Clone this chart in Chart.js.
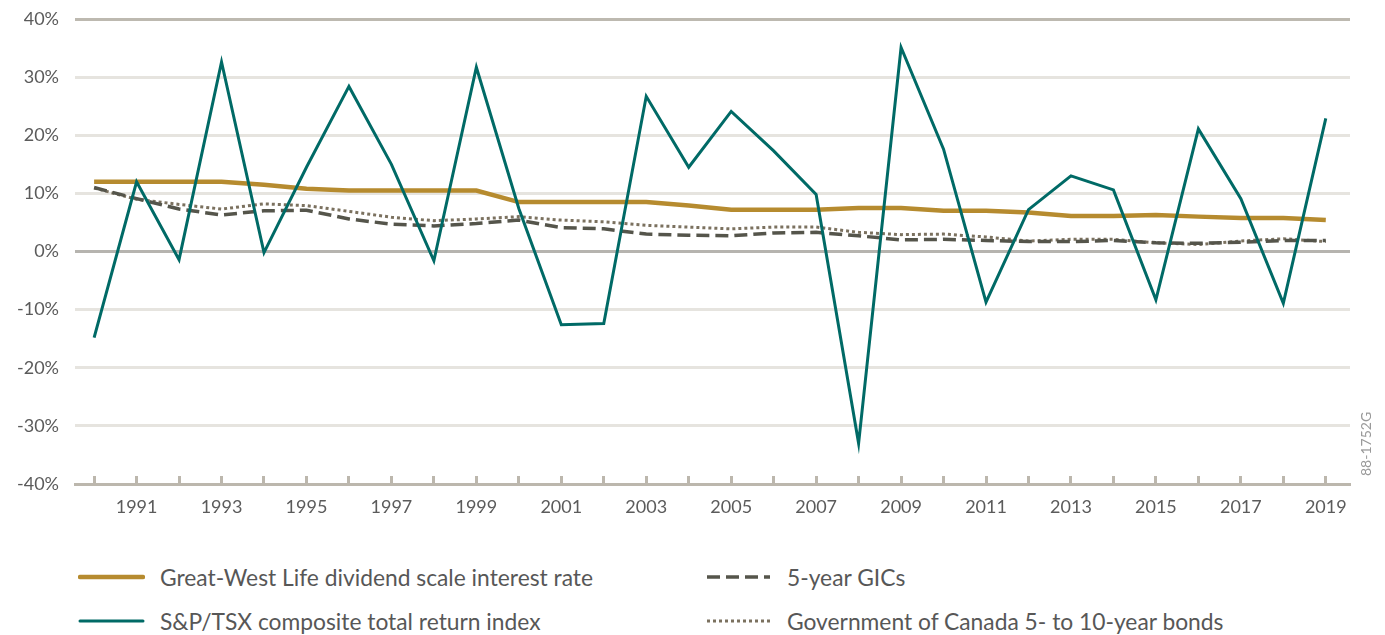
<!DOCTYPE html>
<html>
<head>
<meta charset="utf-8">
<script src="https://cdn.jsdelivr.net/npm/chart.js@4/dist/chart.umd.min.js"></script>
<style>
  body { margin: 0; background: #fff; font-family: Lato, sans-serif; }
  #wrap { position: relative; width: 1385px; height: 635px; }
  #chartBox { position: absolute; left: 0; top: 0; width: 1385px; height: 530px; }
  #legend { position: absolute; left: 78px; top: 555px; display: grid;
            grid-template-columns: 627px 600px; grid-template-rows: 44px 44px; grid-auto-flow: column; }
  .item { display: flex; align-items: center; color: #575757; font-size: 22.8px; }
  .item svg { margin-right: 15px; }
  #code { position: absolute; left: 1357px; top: 476px; transform-origin: left top;
          transform: rotate(-90deg); color: #9a9a9a; font-size: 14px; white-space: nowrap; }
</style>
</head>
<body>
<div id="wrap">
  <div id="chartBox"><canvas id="chart"></canvas></div>
  <div id="legend"></div>
  <div id="code">88-1752G</div>
</div>
<script>
  const years = [1990, 1991, 1992, 1993, 1994, 1995, 1996, 1997, 1998, 1999,
                 2000, 2001, 2002, 2003, 2004, 2005, 2006, 2007, 2008, 2009,
                 2010, 2011, 2012, 2013, 2014, 2015, 2016, 2017, 2018, 2019];

  const gwlRate   = [12.0, 12.0, 12.0, 12.0, 11.5, 10.8, 10.5, 10.5, 10.5, 10.5,
                     8.5, 8.5, 8.5, 8.5, 7.9, 7.2, 7.2, 7.2, 7.5, 7.5,
                     7.0, 7.0, 6.7, 6.1, 6.1, 6.3, 6.0, 5.75, 5.75, 5.4];
  const tsxReturn = [-14.8, 12.0, -1.4, 32.6, -0.2, 14.5, 28.4, 15.0, -1.6, 31.7,
                     7.4, -12.6, -12.4, 26.7, 14.5, 24.1, 17.3, 9.8, -33.0, 35.1,
                     17.6, -8.7, 7.2, 13.0, 10.6, -8.3, 21.1, 9.1, -8.9, 22.9];
  const gicRate   = [11.0, 9.1, 7.3, 6.3, 7.0, 7.1, 5.6, 4.7, 4.4, 4.8,
                     5.4, 4.1, 3.9, 3.0, 2.8, 2.7, 3.2, 3.3, 2.7, 2.0,
                     2.1, 1.9, 1.7, 1.7, 1.9, 1.5, 1.4, 1.6, 1.9, 1.9];
  const bondYield = [10.9, 9.0, 8.1, 7.3, 8.2, 7.9, 6.9, 5.9, 5.3, 5.6,
                     6.0, 5.4, 5.1, 4.5, 4.2, 3.9, 4.2, 4.2, 3.3, 2.9,
                     3.0, 2.5, 1.8, 2.1, 2.1, 1.5, 1.2, 1.8, 2.2, 1.7];

  const seriesNames = ['Great-West Life dividend scale interest rate',
                       'S&P/TSX composite total return index',
                       '5-year GICs',
                       'Government of Canada 5- to 10-year bonds'];

  function toPoints(vals) {
    return years.map((yr, i) => ({ x: yr, y: vals[i] }));
  }

  const datasets = [
    { label: seriesNames[0], data: toPoints(gwlRate), borderColor: '#b68b2f', borderWidth: 4.5, order: 1 },
    { label: seriesNames[1], data: toPoints(tsxReturn), borderColor: '#006a66', borderWidth: 3, order: 0 },
    { label: seriesNames[2], data: toPoints(gicRate), borderColor: '#55554b', borderWidth: 3.5, borderDash: [13, 6], order: 2 },
    { label: seriesNames[3], data: toPoints(bondYield), borderColor: '#7b715f', borderWidth: 3, borderDash: [3, 3], order: 3 }
  ];
  datasets.forEach(d => { d.pointRadius = 0; d.tension = 0; d.fill = false; });

  const htmlLegend = {
    id: 'htmlLegend',
    afterUpdate(chart) {
      const box = document.getElementById('legend');
      box.innerHTML = '';
      chart.data.datasets.forEach(ds => {
        const dash = ds.borderDash ? ds.borderDash.join(',') : 'none';
        const cap = ds.borderDash ? 'butt' : 'round';
        const item = document.createElement('div');
        item.className = 'item';
        item.innerHTML = `<svg width="67" height="8"><line x1="2" y1="4" x2="65" y2="4" stroke="${ds.borderColor}"
          stroke-width="${ds.borderWidth}" stroke-dasharray="${dash}" stroke-linecap="${cap}"/></svg><span>${ds.label}</span>`;
        box.appendChild(item);
      });
    }
  };

  const tickColor = '#5b5b5b';

  new Chart(document.getElementById('chart'), {
    type: 'line',
    data: { datasets: datasets },
    plugins: [htmlLegend],
    options: {
      responsive: true,
      maintainAspectRatio: false,
      animation: false,
      layout: { padding: { top: 19, right: 35, left: 0, bottom: 0 } },
      plugins: { legend: { display: false }, tooltip: { enabled: false } },
      scales: {
        x: {
          type: 'linear',
          min: 1989.55,
          max: 2019.57,
          afterBuildTicks: s => { s.ticks = years.map(v => ({ value: v })); },
          afterFit: s => { s.height = 46; },
          ticks: {
            autoSkip: false, maxRotation: 0, padding: 20, color: tickColor,
            font: { family: 'Lato', size: 18 },
            callback: v => (v % 2 ? String(v) : '')
          },
          grid: { drawOnChartArea: false, tickLength: -8, tickColor: '#bcb7ad', tickWidth: 3 },
          border: { color: '#bcb7ad', width: 3 }
        },
        y: {
          min: -40,
          max: 40,
          afterFit: s => { s.width = 75; s.paddingTop = 0; s.paddingBottom = 0; },
          ticks: {
            stepSize: 10, padding: 16, color: tickColor,
            font: { family: 'Lato', size: 18 },
            callback: v => v + '%'
          },
          grid: {
            drawTicks: false,
            lineWidth: 3,
            color: c => c.tick.value === 40 ? '#bdb9b0' : (c.tick.value === 0 ? '#b6b4af' : '#e6e4df')
          },
          border: { display: false }
        }
      }
    }
  });
</script>
</body>
</html>
